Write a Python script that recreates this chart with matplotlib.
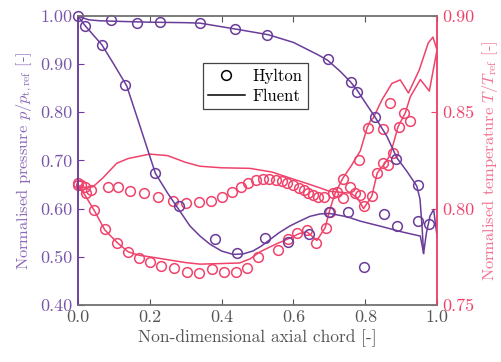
import numpy as np
import matplotlib
matplotlib.use("Agg")
import matplotlib.pyplot as plt
from matplotlib.lines import Line2D

plt.rcParams['font.family'] = 'cmr10'
plt.rcParams['mathtext.fontset'] = 'cm'
plt.rcParams['axes.formatter.use_mathtext'] = True

PURPLE = '#6a3d9a'
PINK = '#f0436b'

# ---- pressure, Fluent ----
p_ps_x = [0, 0.01, 0.03, 0.06, 0.1, 0.2, 0.3, 0.34, 0.437, 0.53, 0.6, 0.669, 0.695, 0.73,
          0.76, 0.777, 0.8, 0.827, 0.86, 0.888, 0.915, 0.943, 0.952, 0.958, 0.962,
          0.97, 0.98, 0.99, 1.0]
p_ps = [1.0, 0.997, 0.992, 0.99, 0.989, 0.987, 0.986, 0.985, 0.973, 0.961, 0.945, 0.919, 0.908, 0.885,
        0.862, 0.846, 0.82, 0.79, 0.75, 0.705, 0.678, 0.647, 0.62, 0.56, 0.507,
        0.55, 0.585, 0.598, 0.54]
p_ss_x = [0, 0.02, 0.067, 0.1, 0.136, 0.17, 0.216, 0.25, 0.281, 0.312, 0.34, 0.368, 0.4, 0.432,
          0.46, 0.487, 0.51, 0.535, 0.56, 0.59, 0.62, 0.646, 0.674, 0.7, 0.75, 0.786, 0.85,
          0.9, 0.953, 0.962]
p_ss = [1.0, 0.98, 0.94, 0.9, 0.855, 0.778, 0.673, 0.632, 0.598, 0.564, 0.543, 0.526, 0.512, 0.505,
        0.506, 0.512, 0.522, 0.536, 0.55, 0.564, 0.575, 0.584, 0.589, 0.59, 0.583, 0.574, 0.562,
        0.552, 0.543, 0.507]

# ---- pressure, Hylton ----
hp_ps_x = [0, 0.092, 0.164, 0.228, 0.34, 0.437, 0.526, 0.695, 0.76, 0.777, 0.827, 0.885, 0.946]
hp_ps = [1.0, 0.992, 0.986, 0.988, 0.986, 0.973, 0.961, 0.911, 0.863, 0.843, 0.791, 0.704, 0.649]
hp_ss_x = [0.021, 0.067, 0.131, 0.216, 0.281, 0.383, 0.442, 0.521, 0.586, 0.644, 0.699, 0.751,
           0.797, 0.852, 0.889, 0.946, 0.976]
hp_ss = [0.979, 0.94, 0.857, 0.673, 0.605, 0.536, 0.507, 0.540, 0.530, 0.548, 0.594, 0.592,
         0.479, 0.588, 0.564, 0.574, 0.569]

# ---- temperature, Fluent ----
t1_x = [0, 0.02, 0.045, 0.075, 0.11, 0.14, 0.17, 0.2, 0.25, 0.3, 0.34, 0.4, 0.45, 0.48, 0.507,
        0.55, 0.59, 0.615, 0.637, 0.65, 0.665, 0.688, 0.702, 0.716, 0.738, 0.76, 0.786, 0.805,
        0.815, 0.822, 0.846, 0.874, 0.897, 0.92, 0.95, 0.975, 0.988, 1.0]
t1 = [0.812, 0.807, 0.7993, 0.789, 0.7823, 0.7776, 0.7758, 0.775, 0.7735, 0.772, 0.7712, 0.7715,
      0.7718, 0.774, 0.7776, 0.7815, 0.7847, 0.787, 0.788, 0.786, 0.7835, 0.79, 0.8, 0.808,
      0.816, 0.822, 0.83, 0.842, 0.846, 0.847, 0.8564, 0.865, 0.8668, 0.86, 0.872, 0.886,
      0.889, 0.882]
t2_x = [0, 0.02, 0.042, 0.07, 0.108, 0.14, 0.2, 0.25, 0.3, 0.34, 0.4, 0.479, 0.54, 0.59, 0.63,
        0.67, 0.7, 0.73, 0.76, 0.78, 0.795, 0.818, 0.833, 0.855, 0.869, 0.891, 0.911, 0.925,
        0.953, 0.978, 1.0]
t2 = [0.812, 0.811, 0.8113, 0.816, 0.8235, 0.826, 0.8283, 0.8275, 0.824, 0.822, 0.8212, 0.8209,
      0.819, 0.8159, 0.8135, 0.811, 0.809, 0.8085, 0.808, 0.805, 0.80, 0.8065, 0.8185, 0.8237,
      0.8278, 0.8425, 0.8496, 0.858, 0.867, 0.861, 0.883]

# ---- temperature, Hylton ----
ht1_x = [0.0, 0.022, 0.045, 0.075, 0.11, 0.14, 0.171, 0.2, 0.231, 0.268, 0.305, 0.338, 0.374,
         0.406, 0.44, 0.47, 0.50, 0.558, 0.586, 0.611, 0.637, 0.663, 0.69, 0.702, 0.711, 0.739,
         0.783, 0.807, 0.849, 0.868]
ht1 = [0.8125, 0.8083, 0.7993, 0.7894, 0.7823, 0.7776, 0.7745, 0.7724, 0.7703, 0.769, 0.7669,
       0.7664, 0.7685, 0.7669, 0.7669, 0.7691, 0.7747, 0.7786, 0.7845, 0.7872, 0.7887, 0.7823,
       0.79, 0.7984, 0.808, 0.8152, 0.8254, 0.8417, 0.8411, 0.8547]
ht2_x = [0.001, 0.01, 0.0195, 0.038, 0.083, 0.112, 0.145, 0.184, 0.224, 0.264, 0.301, 0.338,
         0.37, 0.402, 0.43, 0.454, 0.474, 0.496, 0.514, 0.533, 0.552, 0.567, 0.583, 0.6, 0.614,
         0.628, 0.641, 0.655, 0.669, 0.685, 0.72, 0.739, 0.758, 0.77, 0.786, 0.797, 0.818,
         0.832, 0.85, 0.864, 0.878, 0.893, 0.908, 0.923]
ht2 = [0.8131, 0.8123, 0.8114, 0.8097, 0.811, 0.811, 0.8093, 0.8083, 0.8062, 0.8041, 0.8031,
       0.8033, 0.8041, 0.8059, 0.8088, 0.8114, 0.8134, 0.8149, 0.8152, 0.8152, 0.8149, 0.8143,
       0.8134, 0.8122, 0.8105, 0.8097, 0.8083, 0.8071, 0.8062, 0.8058, 0.8085, 0.8055, 0.8114,
       0.8083, 0.807, 0.8015, 0.8065, 0.8183, 0.8235, 0.8226, 0.8287, 0.8425, 0.8495, 0.8455]

fig = plt.figure(figsize=(5.02, 3.62), dpi=100)
ax = fig.add_axes([0.155, 0.1575, 0.716, 0.7985])
ax2 = ax.twinx()

lw = 1.1
ms = 7
mk = dict(marker='o', linestyle='none', markerfacecolor='none', markersize=ms,
          markeredgewidth=1.1, clip_on=False)

ax2.plot(t1_x, t1, color=PINK, lw=lw)
ax2.plot(t2_x, t2, color=PINK, lw=lw)
ax2.plot(ht1_x, ht1, color=PINK, **mk)
ax2.plot(ht2_x, ht2, color=PINK, **mk)

ax.plot(p_ps_x, p_ps, color=PURPLE, lw=lw)
ax.plot(p_ss_x, p_ss, color=PURPLE, lw=lw)
ax.plot(hp_ps_x, hp_ps, color=PURPLE, **mk)
ax.plot(hp_ss_x, hp_ss, color=PURPLE, **mk)
ax.set_zorder(ax2.get_zorder() + 1)
ax.patch.set_visible(False)

ax.set_xlim(0, 1)
ax.set_ylim(0.40, 1.00)
ax2.set_ylim(0.75, 0.90)
ax.set_xticks(np.arange(0, 1.01, 0.2))
ax.set_xticklabels(['0.0', '0.2', '0.4', '0.6', '0.8', '1.0'])
ax.set_yticks(np.arange(0.4, 1.001, 0.1))
ax.set_yticklabels(['0.40', '0.50', '0.60', '0.70', '0.80', '0.90', '1.00'])
ax2.set_yticks([0.75, 0.80, 0.85, 0.90])
ax2.set_yticklabels(['0.75', '0.80', '0.85', '0.90'])

ax.tick_params(axis='x', direction='in', colors='#555555', labelsize=13, top=True, length=4)
ax.tick_params(axis='y', direction='in', colors=PURPLE, labelcolor='#7a55aa', labelsize=13, length=4)
ax2.tick_params(axis='y', direction='in', colors=PINK, labelcolor=PINK, labelsize=13, length=4)

for a in (ax, ax2):
    a.spines['top'].set_color('#777777')
    a.spines['bottom'].set_color('#777777')
    a.spines['left'].set_color(PURPLE)
    a.spines['right'].set_color(PINK)
    for s in a.spines.values():
        s.set_linewidth(1.1)

ax.set_xlabel('Non-dimensional axial chord [-]', color='#555555', fontsize=12.5, labelpad=3)
ax.set_ylabel(r'Normalised pressure $p/p_{\mathrm{t,ref}}$ [-]', color='#8a68b8', fontsize=11.8, labelpad=4)
ax2.set_ylabel(r'Normalised temperature $T/T_{\mathrm{ref}}$ [-]', color='#f2718f', fontsize=11.8, labelpad=4)

handles = [Line2D([], [], marker='o', linestyle='none', markerfacecolor='none',
                  markeredgecolor='black', markersize=ms, markeredgewidth=1.1),
           Line2D([], [], color='black', lw=lw)]
leg = ax.legend(handles, ['Hylton', 'Fluent'], loc='upper left', bbox_to_anchor=(0.325, 0.865),
                fontsize=12, frameon=True, fancybox=False, framealpha=1, borderpad=0.3,
                handlelength=2.2, labelspacing=0.3, handletextpad=0.5)
leg.get_frame().set_edgecolor('#444444')
leg.get_frame().set_linewidth(0.9)

fig.savefig('out.png', dpi=100)
